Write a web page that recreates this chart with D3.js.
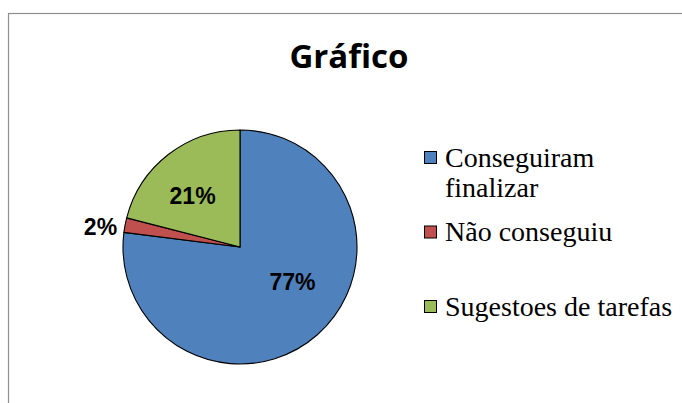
<!DOCTYPE html>
<html>
<head>
    <meta charset="UTF-8">
    <title>Gráfico</title>
    <script src="https://d3js.org/d3.v7.min.js"></script>
    <style>
        body { margin: 0; background: #fff; }
        svg { display: block; }
    </style>
</head>
<body>
<svg id="chart" width="682" height="403"></svg>
<script>
    // data
    const categories = ["Conseguiram finalizar", "Não conseguiu", "Sugestoes de tarefas"];
    const legendLines = [["Conseguiram", "finalizar"], ["Não conseguiu"], ["Sugestoes de tarefas"]];
    const values = [77, 2, 21];
    const pctLabels = ["77%", "2%", "21%"];
    const colors = ["#4F81BD", "#C0504D", "#9BBB59"];

    const svg = d3.select("#chart");

    // chart area border (runs off the right and bottom edge)
    svg.append("rect")
        .attr("x", 8.5).attr("y", 13.5)
        .attr("width", 700).attr("height", 420)
        .attr("fill", "#fff")
        .attr("stroke", "#8f8f8f")
        .attr("stroke-width", 1.2);

    // legend
    const ly = d3.scalePoint().domain(categories).range([157.5, 306.5]);
    categories.forEach((c, i) => {
        svg.append("rect")
            .attr("x", 424.5).attr("y", ly(c) - 6)
            .attr("width", 12).attr("height", 12)
            .attr("fill", colors[i])
            .attr("stroke", "#000")
            .attr("stroke-width", 1);
        legendLines[i].forEach((line, j) => {
            svg.append("text")
                .attr("x", 445)
                .attr("y", ly(c) + 9 + j * 30)
                .style("font-family", '"Times New Roman", FreeSerif, "Liberation Serif", serif')
                .style("font-size", "28px")
                .text(line);
        });
    });

    svg.append("text")
        .attr("x", 349).attr("y", 68)
        .attr("text-anchor", "middle")
        .style("font-family", '"Open Sans"')
        .style("font-weight", "bold")
        .style("font-size", "33px")
        .text("Gráfico");

    const cx = 240, cy = 247, r = 117;
    const g = svg.append("g").attr("transform", `translate(${cx},${cy})`);

    const pie = d3.pie().sort(null).value(d => d);
    const arcs = pie(values);
    const arc = d3.arc().innerRadius(0).outerRadius(r);

    g.selectAll("path.slice")
        .data(arcs)
        .enter()
        .append("path")
        .attr("class", "slice")
        .attr("d", arc)
        .attr("fill", (d, i) => colors[i])
        .attr("stroke", "#000")
        .attr("stroke-width", 1.1)
        .attr("stroke-linejoin", "round");

    // label placement like Excel "best fit": inside for big slices, outside for the tiny one
    const inner = d3.arc().innerRadius(0).outerRadius(r * 1.1);
    const outer = d3.arc().innerRadius(r + 22).outerRadius(r + 22);
    const nudge = [[10, -14], [-3, 6], [-8, 0]];

    g.selectAll("text.pct")
        .data(arcs)
        .enter()
        .append("text")
        .attr("class", "pct")
        .attr("transform", (d, i) => {
            const c = (d.endAngle - d.startAngle) < 0.3 ? outer.centroid(d) : inner.centroid(d);
            return `translate(${c[0] + nudge[i][0]},${c[1] + nudge[i][1]})`;
        })
        .attr("text-anchor", "middle")
        .attr("dy", "0.36em")
        .style("font-family", 'Arial, "Liberation Sans", sans-serif')
        .style("font-weight", "bold")
        .style("font-size", "23px")
        .text((d, i) => pctLabels[i]);
</script>
</body>
</html>
